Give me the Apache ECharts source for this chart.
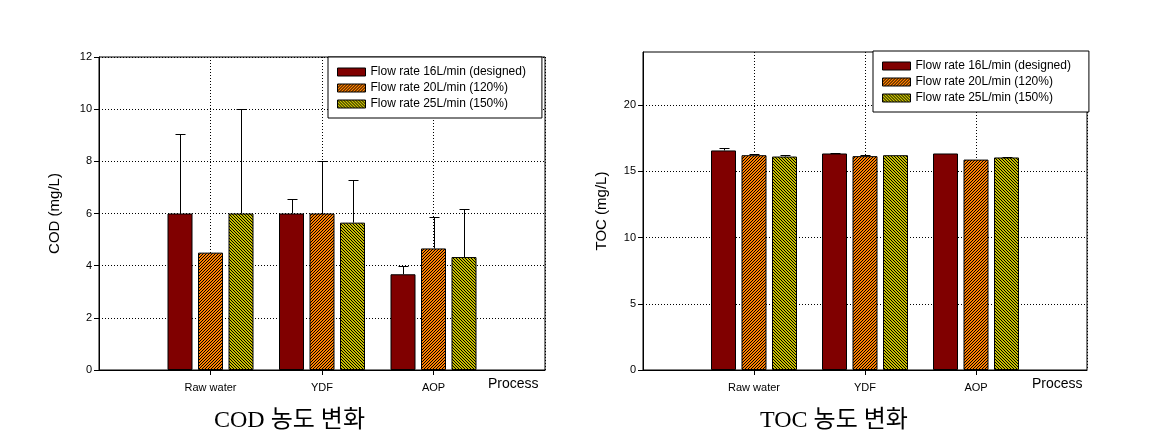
<!DOCTYPE html>
<html>
<head>
<meta charset="utf-8">
<script src="https://cdn.jsdelivr.net/npm/echarts@6/dist/echarts.min.js"></script>
<style>
html,body{margin:0;padding:0;background:#fff;}
#chart{width:1170px;height:440px;}
</style>
</head>
<body>
<div id="chart"></div>
<script>
// ---- data ----
var categories = ['Raw water', 'YDF', 'AOP'];
var seriesNames = ['Flow rate 16L/min (designed)', 'Flow rate 20L/min (120%)', 'Flow rate 25L/min (150%)'];

var cod16 = [6.0, 6.0, 3.67];
var cod16Err = [3.03, 0.55, 0.30];
var cod20 = [4.5, 6.0, 4.66];
var cod20Err = [0, 2.0, 1.19];
var cod25 = [6.0, 5.65, 4.33];
var cod25Err = [4.0, 1.65, 1.83];

var toc16 = [16.57, 16.34, 16.34];
var toc16Err = [0.15, 0.07, 0];
var toc20 = [16.21, 16.14, 15.88];
var toc20Err = [0.06, 0.05, 0];
var toc25 = [16.11, 16.21, 16.04];
var toc25Err = [0.08, 0, 0.07];

var codTicks = [0, 2, 4, 6, 8, 10, 12];
var tocTicks = [0, 5, 10, 15, 20];

// ---- styles ----
function makePattern(bg, dir) {
  var c = document.createElement('canvas');
  var n = 3;
  c.width = n; c.height = n;
  var ctx = c.getContext('2d');
  var img = ctx.createImageData(n, n);
  var rgb = bg;
  for (var y = 0; y < n; y++) {
    for (var x = 0; x < n; x++) {
      var k = dir > 0 ? (x + y) % n : ((x - y) % n + n) % n;
      var dark = (k === 0);
      var i = (y * n + x) * 4;
      img.data[i] = dark ? 0 : rgb[0];
      img.data[i + 1] = dark ? 0 : rgb[1];
      img.data[i + 2] = dark ? 0 : rgb[2];
      img.data[i + 3] = 255;
    }
  }
  ctx.putImageData(img, 0, 0);
  return { image: c, repeat: 'repeat' };
}
var fills = [
  '#800000',
  makePattern([255, 128, 0], 1),
  makePattern([200, 192, 0], -1)
];

var BAR_W = 25, BAR_GAP = 0.22;
var font = 'Arial, "Liberation Sans", sans-serif';

function padData(arr) { return [null].concat(arr).concat([null]); }
function catData() { return [''].concat(categories).concat(['']); }

function barSeries(vals, si, gi) {
  return {
    type: 'bar', name: seriesNames[si], xAxisIndex: gi, yAxisIndex: gi,
    data: padData(vals), barWidth: BAR_W, barGap: (BAR_GAP * 100) + '%',
    itemStyle: { color: fills[si], borderColor: '#000', borderWidth: 1 },
    emphasis: { disabled: true }, z: 2
  };
}
function errSeries(vals, errs, si, gi) {
  var data = vals.map(function (v, i) { return [i + 1, v, errs[i]]; });
  var offset = (si - 1) * BAR_W * (1 + BAR_GAP);
  return {
    type: 'custom', xAxisIndex: gi, yAxisIndex: gi, z: 3, silent: true,
    encode: { x: 0, y: 1 },
    data: data,
    renderItem: function (params, api) {
      var e = api.value(2);
      if (!e) return null;
      var p0 = api.coord([api.value(0), api.value(1)]);
      var p1 = api.coord([api.value(0), api.value(1) + e]);
      var x = Math.round(p0[0] + offset) + 0.5;
      var yt = Math.round(p1[1]) + 0.5;
      var st = { stroke: '#000', lineWidth: 1 };
      return { type: 'group', children: [
        { type: 'line', shape: { x1: x, y1: p0[1], x2: x, y2: yt }, style: st },
        { type: 'line', shape: { x1: x - 5, y1: yt, x2: x + 5, y2: yt }, style: st }
      ]};
    }
  };
}

function xAxis(gi) {
  return {
    type: 'category', gridIndex: gi, data: catData(), boundaryGap: false,
    axisLine: { lineStyle: { color: '#000', width: 1 } },
    axisTick: { show: true, length: 5, inside: false, lineStyle: { color: '#000' },
      interval: function (idx) { return idx > 0 && idx <= categories.length; } },
    axisLabel: { color: '#000', fontFamily: font, fontSize: 11, margin: 12, interval: 0 },
    splitLine: { show: true, lineStyle: { color: '#000', type: [1, 2], width: 1 } }
  };
}
function yAxis(gi, max, interval, ticks, name, gap) {
  return {
    type: 'value', gridIndex: gi, min: 0, max: max, interval: interval,
    name: name, nameLocation: 'middle', nameRotate: 90, nameGap: gap,
    nameTextStyle: { color: '#000', fontFamily: font, fontSize: 15 },
    axisLine: { show: true, lineStyle: { color: '#000', width: 1 } },
    axisTick: { show: true, length: 5, lineStyle: { color: '#000' }, customValues: ticks },
    axisLabel: { color: '#000', fontFamily: font, fontSize: 11, margin: 7, customValues: ticks },
    splitLine: { show: true, lineStyle: { color: '#000', type: [1, 2], width: 1 } }
  };
}
function legend(left, top, padR) {
  return {
    orient: 'vertical', left: left, top: top,
    data: seriesNames,
    backgroundColor: '#fff', borderColor: '#000', borderWidth: 1, borderRadius: 0,
    padding: [8, padR, 7, 9],
    itemWidth: 28, itemHeight: 8, itemGap: 2, itemTextGap: 8,
    icon: 'rect', selectedMode: false,
    itemStyle: { borderColor: '#000', borderWidth: 1 },
    textStyle: { color: '#000', fontFamily: font, fontSize: 12, lineHeight: 14 },
    z: 10
  };
}

var chart = echarts.init(document.getElementById('chart'), null, { renderer: 'canvas' });
var titleFont = '"Liberation Serif", "DejaVu Serif", "Noto Sans CJK KR", serif';
var option = {
  backgroundColor: '#fff',
  animation: false,
  grid: [
    { left: 99, right: 625, top: 57, bottom: 70, show: true, borderColor: '#000', borderWidth: 1, backgroundColor: 'transparent' },
    { left: 643, right: 83, top: 52, bottom: 70, show: true, borderColor: '#000', borderWidth: 1, backgroundColor: 'transparent' }
  ],
  legend: [legend(328, 57, 16), legend(873, 51, 18)],
  xAxis: [xAxis(0), xAxis(1)],
  yAxis: [
    yAxis(0, 12, 2, codTicks, 'COD (mg/L)', 37),
    yAxis(1, 24, 5, tocTicks, 'TOC (mg/L)', 34)
  ],
  series: [
    barSeries(cod16, 0, 0), barSeries(cod20, 1, 0), barSeries(cod25, 2, 0),
    errSeries(cod16, cod16Err, 0, 0), errSeries(cod20, cod20Err, 1, 0), errSeries(cod25, cod25Err, 2, 0),
    barSeries(toc16, 0, 1), barSeries(toc20, 1, 1), barSeries(toc25, 2, 1),
    errSeries(toc16, toc16Err, 0, 1), errSeries(toc20, toc20Err, 1, 1), errSeries(toc25, toc25Err, 2, 1)
  ],
  graphic: [
    { type: 'text', left: 488, top: 377, style: { text: 'Process', fontFamily: font, fontSize: 14, fill: '#000' } },
    { type: 'text', left: 1032, top: 377, style: { text: 'Process', fontFamily: font, fontSize: 14, fill: '#000' } },
    { type: 'text', left: 214, top: 409, style: { text: 'COD 농도 변화', fontFamily: titleFont, fontSize: 24, fill: '#000' } },
    { type: 'text', left: 760, top: 409, style: { text: 'TOC 농도 변화', fontFamily: titleFont, fontSize: 24, fill: '#000' } }
  ]
};
chart.setOption(option);
</script>
</body>
</html>
